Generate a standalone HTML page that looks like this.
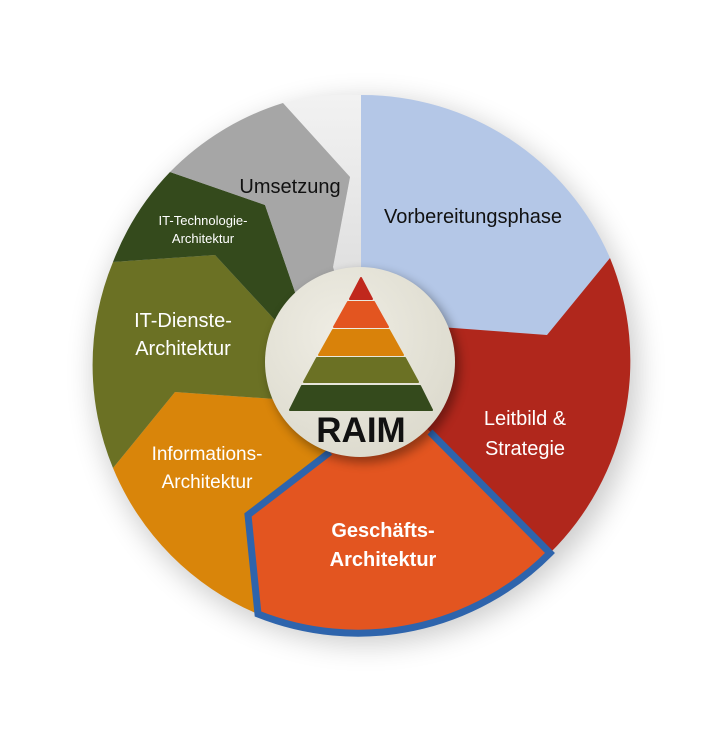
<!DOCTYPE html>
<html><head><meta charset="utf-8"><style>
html,body{margin:0;padding:0;background:#fff;}
svg{display:block;}
text{font-family:"Liberation Sans","DejaVu Sans",sans-serif;}
</style></head><body>
<svg width="723" height="730" viewBox="0 0 723 730" xmlns="http://www.w3.org/2000/svg">
<defs>
<filter id="sh" x="-30%" y="-30%" width="160%" height="160%"><feGaussianBlur stdDeviation="14"/></filter>
<filter id="sh2" x="-30%" y="-30%" width="160%" height="160%"><feGaussianBlur stdDeviation="5"/></filter>
<radialGradient id="cg" cx="0.4" cy="0.35" r="0.7">
<stop offset="0" stop-color="#efede4"/><stop offset="1" stop-color="#dcdacd"/>
</radialGradient>
<linearGradient id="lw" x1="0" y1="0" x2="0" y2="1">
<stop offset="0" stop-color="#f2f2f2"/><stop offset="1" stop-color="#d6d6d6"/>
</linearGradient>
</defs>
<circle cx="366" cy="372" r="272" fill="#000" opacity="0.2" filter="url(#sh)"/>
<path d="M361,365 L333,267 L350,177 L283,103 A270,270 0 0 1 361,95 Z" fill="url(#lw)"/>
<path d="M361,365 L361,95 A270,270 0 0 1 610,258 L547,335 L440,327 Z" fill="#b4c7e7"/>
<path d="M361,365 L440,327 L547,335 L610,258 A270,270 0 0 1 550,553 L430,432 Z" fill="#b0271c"/>
<path d="M361,365 L330,452 L248,515 L258,614 A270,270 0 0 1 113,468 L175,392 L290,400 Z" fill="#d9850a"/>
<path d="M361,365 L290,400 L175,392 L113,468 A270,270 0 0 1 113,262 L215,255 L275,320 Z" fill="#6b7124"/>
<path d="M361,365 L275,320 L215,255 L113,262 A270,270 0 0 1 170,172 L265,205 L296,295 Z" fill="#344a1c"/>
<path d="M361,365 L296,295 L265,205 L170,172 A270,270 0 0 1 283,103 L350,177 L333,267 Z" fill="#a6a6a6"/>
<path d="M361,365 L430,432 L550,553 A270,270 0 0 1 258,614 L248,515 L330,452 Z" fill="#e35520"/>
<path d="M430,432 L550,553 A270,270 0 0 1 258,614 L248,515 L330,452" fill="none" stroke="#2e64ac" stroke-width="7" stroke-linejoin="miter"/>
<circle cx="364" cy="367" r="96" fill="#000" opacity="0.35" filter="url(#sh2)"/>
<circle cx="360" cy="362" r="95" fill="url(#cg)"/>
<polygon points="361,278 350,299 372,299" fill="#c0281d" stroke="#c0281d" stroke-width="2" stroke-linejoin="round"/>
<polygon points="348,302 374,302 388,327 334,327" fill="#e35520" stroke="#e35520" stroke-width="2" stroke-linejoin="round"/>
<polygon points="333,330 389,330 403,355 319,355" fill="#d9820a" stroke="#d9820a" stroke-width="2" stroke-linejoin="round"/>
<polygon points="317,358 405,358 418,382 304,382" fill="#6b7124" stroke="#6b7124" stroke-width="2" stroke-linejoin="round"/>
<polygon points="302,386 420,386 432,410 290,410" fill="#344a1c" stroke="#344a1c" stroke-width="2" stroke-linejoin="round"/>
<text x="361" y="442" font-size="35" font-weight="bold" text-anchor="middle" fill="#111">RAIM</text>
<text x="473" y="223" font-size="20" text-anchor="middle" fill="#111">Vorbereitungsphase</text>
<text x="290" y="193" font-size="20" text-anchor="middle" fill="#111">Umsetzung</text>
<text x="203" y="225" font-size="13" text-anchor="middle" fill="#fff">IT-Technologie-</text>
<text x="203" y="243" font-size="13" text-anchor="middle" fill="#fff">Architektur</text>
<text x="183" y="327" font-size="20" text-anchor="middle" fill="#fff">IT-Dienste-</text>
<text x="183" y="355" font-size="20" text-anchor="middle" fill="#fff">Architektur</text>
<text x="207" y="460" font-size="19" text-anchor="middle" fill="#fff">Informations-</text>
<text x="207" y="488" font-size="19" text-anchor="middle" fill="#fff">Architektur</text>
<text x="525" y="425" font-size="20" text-anchor="middle" fill="#fff">Leitbild &amp;</text>
<text x="525" y="455" font-size="20" text-anchor="middle" fill="#fff">Strategie</text>
<text x="383" y="537" font-size="20" font-weight="bold" text-anchor="middle" fill="#fff">Geschäfts-</text>
<text x="383" y="566" font-size="20" font-weight="bold" text-anchor="middle" fill="#fff">Architektur</text>
</svg>
</body></html>
